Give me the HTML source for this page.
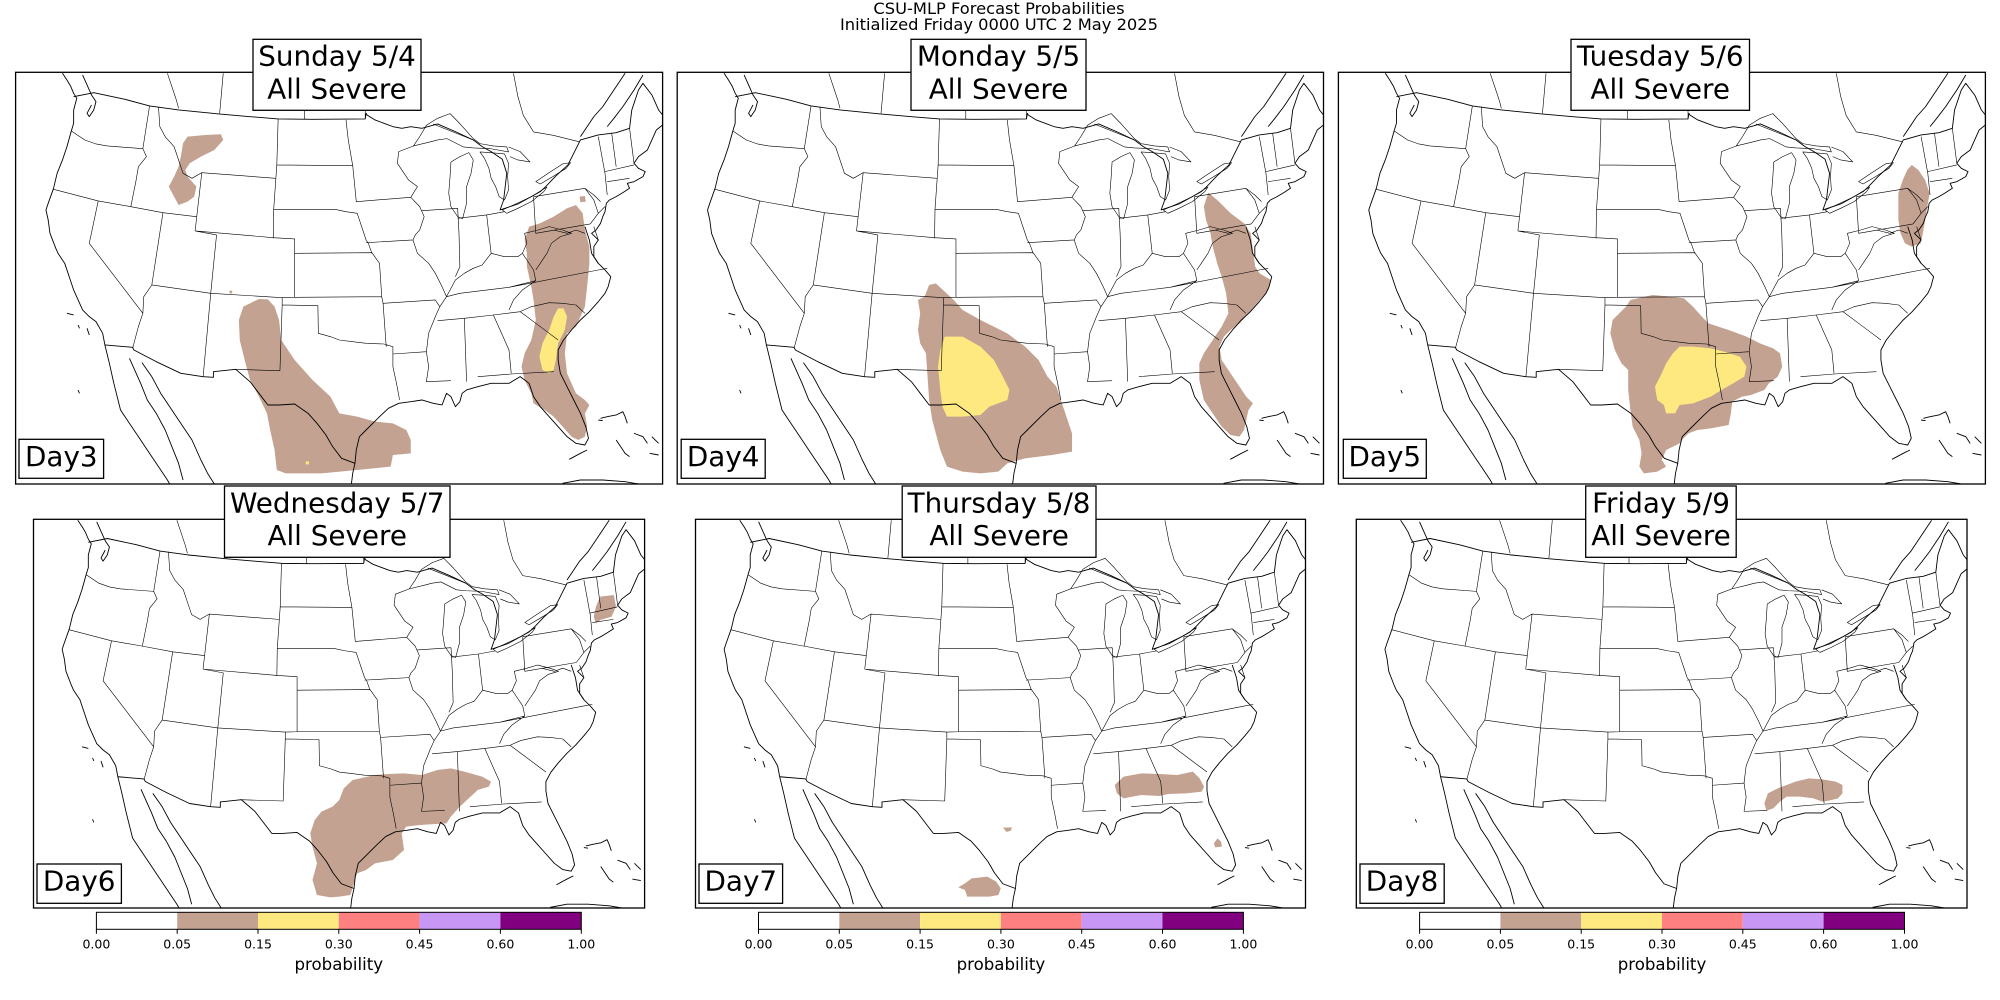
<!DOCTYPE html>
<html><head><meta charset="utf-8">
<style>
html,body{margin:0;padding:0;background:#fff;}
body{width:2000px;height:1000px;overflow:hidden;position:relative;}
svg text{font-family:"DejaVu Sans","Liberation Sans",sans-serif;fill:#000;}
.c{stroke-width:0.9;}
.s{stroke-width:0.6;}
.l{stroke-width:0.6;}
</style></head><body>
<svg width="2000" height="1000" viewBox="0 0 2000 1000" xmlns="http://www.w3.org/2000/svg" style="position:absolute;left:0;top:0">
<defs>
<g id="map" fill="none" stroke="#000" stroke-linejoin="round">
<path class="c" vector-effect="non-scaling-stroke" d="M140,220 L150,240 L158,258 L165,280 L172,295 L165,330 L165,370 L160,392 L150,440 L140,480 L128,520 L120,565 L108,610 L103,630 L108,660 L112,700 L125,745 L130,760 L145,790 L155,830 L165,870 L175,900 L185,930 L200,950 L215,965 L230,1000 L235,1035 L245,1090 L255,1150 L270,1230 L290,1270 L310,1310 L335,1360 L355,1400 L375,1440 L380,1452"/>
<path class="c" vector-effect="non-scaling-stroke" d="M185,225 L195,255 L205,285 L215,305 L210,330 L200,350 L195,340 L205,315"/>
<path class="c" vector-effect="non-scaling-stroke" d="M290,1075 L300,1105 L315,1150 L330,1200 L350,1240 L370,1290 L385,1340 L400,1390 L410,1440"/>
<path class="c" vector-effect="non-scaling-stroke" d="M318,1088 L340,1130 L360,1180 L385,1230 L405,1270 L430,1320 L450,1380 L465,1420 L480,1452"/>
<path class="c" vector-effect="non-scaling-stroke" d="M235,1035 L297,1042 L300,1050 L350,1085 L405,1120 L455,1130 L478,1132 L478,1115 L528,1108 L560,1145 L580,1180 L600,1215 L625,1215 L660,1212 L690,1240 L710,1270 L730,1305 L745,1340 L765,1375 L795,1390 L790,1420 L787,1452"/>
<path class="c" vector-effect="non-scaling-stroke" d="M795,1390 L798,1350 L805,1310 L820,1290 L850,1250 L870,1225 L893,1210 L920,1205 L945,1200 L970,1210 L990,1215 L1000,1180 L1010,1190 L1020,1220 L1030,1205 L1035,1180 L1045,1170 L1070,1160 L1100,1150 L1140,1150 L1165,1130 L1185,1150 L1195,1190 L1210,1220 L1230,1250 L1250,1280 L1270,1310 L1290,1330 L1310,1335 L1318,1315 L1312,1280 L1300,1240 L1285,1200 L1270,1160 L1255,1120 L1250,1080 L1250,1050 L1262,1020 L1280,990 L1300,960 L1320,935 L1340,905 L1355,880 L1362,860 L1368,830 L1355,810 L1340,790 L1330,770 L1330,740 L1340,720 L1325,700 L1335,690 L1345,670 L1350,650 L1355,635 L1358,610 L1365,600 L1380,590 L1395,578 L1410,565 L1405,550 L1420,545 L1440,530 L1445,515 L1430,505 L1420,490 L1430,470 L1450,450 L1460,420 L1470,390 L1484,375"/>
<path class="c" vector-effect="non-scaling-stroke" d="M1310,680 L1320,720 L1325,760 L1340,790"/>
<path class="c" vector-effect="non-scaling-stroke" d="M165,290 L210,278 L280,298 L335,318 L400,330 L490,342 L560,350 L623,357 L700,358 L818,357 L820,340 L822,345 L840,360 L860,370 L880,380 L900,385 L920,380 L945,385 L980,372 L1020,395 L1060,420 L1080,440 L1100,455 L1125,478 L1135,520 L1128,600 L1120,630 L1160,612 L1210,575 L1222,560 L1245,528 L1272,495 L1300,420 L1340,405 L1380,398 L1410,385 L1415,330 L1430,270 L1440,250 L1460,285 L1475,330 L1484,345"/>
<path class="c" vector-effect="non-scaling-stroke" d="M1400,220 L1380,260 L1350,320 L1330,350 L1310,390 L1300,410"/>
<path class="c" vector-effect="non-scaling-stroke" d="M1440,225 L1420,270 L1395,320 L1375,355 L1360,380"/>
<path class="c" vector-effect="non-scaling-stroke" d="M1260,1450 L1300,1440 L1350,1440 L1400,1445 L1430,1452"/>
<path class="c" vector-effect="non-scaling-stroke" d="M1345,1255 L1360,1250 L1380,1245 L1395,1235 L1400,1250 L1405,1270 M1380,1320 L1390,1340 L1400,1360 L1410,1370 M1420,1300 L1440,1310 L1450,1330 M1460,1310 L1475,1330 M1455,1360 L1475,1365 M1275,1378 L1300,1360 L1315,1350 M150,940 L165,945 M175,975 L178,985 M195,985 L200,1005 M175,1170 L178,1180 M1340,1260 L1350,1262"/>
<path class="s" vector-effect="non-scaling-stroke" d="M375,220 L385,260 L395,300 L400,325 M500,220 L492,340 M682,331 L682,358 M818,331 L818,357 M1150,220 L1160,290 L1172,346 L1195,396 L1239,406 L1299,426 M970,372 L1060,420"/>
<path class="l" vector-effect="non-scaling-stroke" d="M926,438 L940,410 L955,376 L980,355 L1008,341 L1030,371 L1060,416 L1075,431 L1105,438 L1135,441 L1139,456 L1098,446 L1060,444 L1038,441 L1001,416 L980,420 L963,426 Z"/>
<path class="l" vector-effect="non-scaling-stroke" d="M1010,486 L1030,470 L1050,458 L1060,480 L1055,520 L1045,560 L1045,610 L1036,656 L1025,650 L1010,620 L1005,580 L1008,530 Z"/>
<path class="l" vector-effect="non-scaling-stroke" d="M1075,456 L1100,458 L1130,462 L1139,490 L1137,530 L1139,570 L1130,600 L1118,590 L1110,560 L1100,535 L1095,505 L1085,475 Z M1139,441 L1165,455 L1187,486 L1160,480 L1142,470"/>
<path class="l" vector-effect="non-scaling-stroke" d="M1125,630 L1150,615 L1190,590 L1225,561 L1218,575 L1190,605 L1160,625 L1135,640 Z"/>
<path class="l" vector-effect="non-scaling-stroke" d="M1200,545 L1230,518 L1260,492 L1278,488 L1268,505 L1238,530 L1210,552 Z"/>
<path class="s" vector-effect="non-scaling-stroke" d="M160,393 L190,420 L215,432 L240,438 L320,446 M335,318 L320,446 L328,470 L310,500 L305,540 L293,620 M120,568 L220,603 L293,620 L365,638 L440,650 M355,320 L358,380 L370,410 L390,440 L400,480 L410,520 L430,535 L452,518 L617,535 M437,693 L452,518 M437,693 L485,705 M623,357 L620,495 L613,628 L612,715 M620,495 L790,497 M775,360 L780,420 L790,497 L798,605 L920,592 M920,592 L935,560 L915,540 L890,490 L893,455 L926,438 M613,628 L750,628 L775,635 L800,640 L810,680 L820,720 L825,730 L833,760 M820,728 L925,720 M920,592 L940,620 L950,650 L940,690 L930,705 L925,720 L935,760 L960,790 L975,820 L990,860 L1000,890 M945,632 L1025,625 M437,693 L612,713 L660,717 L660,760 L833,758 L850,790 L855,890 M340,855 L472,880 L632,893 L660,892 L855,890 M485,705 L472,880 M660,717 L660,892 M632,893 L632,915 L712,917 L713,1000 L740,1010 L760,1020 L790,1025 L820,1030 L860,1032 L880,1040 M855,890 L858,910 L865,1040 M858,910 L975,900 L985,920 L1000,890 M632,915 L627,1112 L525,1108 M472,880 L455,1130 M365,638 L340,855 M340,855 L322,890 L320,940 L310,980 L297,1045 M220,603 L200,730 L320,940 M880,1040 L880,1100 L888,1150 L895,1200 M880,1062 L955,1055 M985,920 L975,950 L960,1000 L955,1055 L960,1100 L955,1145 L1010,1142 M980,962 L1040,955 L1105,945 L1165,935 M1000,890 L1030,880 L1140,862 L1340,810 L1360,805 M1200,842 L1170,870 L1150,900 L1140,930 M1040,955 L1045,1145 M1105,945 L1140,1050 L1145,1120 M1070,1130 L1145,1122 L1240,1115 M1165,935 L1200,970 L1230,1000 L1250,1020 M1165,935 L1190,920 L1230,908 L1260,910 L1290,915 L1310,940 M1000,890 L1020,840 L1040,820 L1060,805 L1080,795 L1100,760 L1130,770 L1160,770 L1170,760 L1180,780 M1025,625 L1028,700 L1030,800 L1020,830 M1090,645 L1100,760 M1025,655 L1090,645 L1130,635 M1180,780 L1195,810 L1200,842 L1140,862 M1170,760 L1180,730 L1175,700 L1205,690 L1230,680 L1260,690 L1280,700 L1255,710 L1235,730 L1225,760 L1210,790 L1200,810 M1195,590 L1200,700 L1322,672 M1195,590 L1310,565 L1330,585 L1345,605 M1310,565 L1330,600 L1340,640 L1322,672 M1340,640 L1355,620 M1340,410 L1355,520 L1360,585 M1355,515 L1420,495 M1360,545 L1410,535 M1370,400 L1380,500 M1410,385 L1420,490 M1240,690 L1270,700 L1290,690 L1310,700 M1330,680 L1340,720"/>
</g>
</defs>

<text x="999" y="14" font-size="16.3" text-anchor="middle">CSU-MLP Forecast Probabilities</text>
<text x="999" y="30" font-size="16.3" text-anchor="middle">Initialized Friday 0000 UTC 2 May 2025</text>

<!-- Panel 1 -->
<svg x="15.6" y="72.3" width="647" height="411.7" viewBox="35 217 1449 1235" preserveAspectRatio="none">
<g stroke="none">
<path fill="#c4a292" d="M420,410 L460,405 L495,403 L500,420 L480,450 L450,470 L425,490 L415,510 L420,530 L440,560 L435,590 L420,605 L400,615 L390,590 L378,560 L390,530 L400,500 L405,470 L410,430 Z"/>
<path fill="#c4a292" d="M580,897 L600,898 L615,920 L625,960 L630,1020 L660,1080 L700,1140 L740,1190 L760,1240 L800,1250 L840,1265 L880,1270 L910,1290 L920,1320 L920,1360 L880,1365 L875,1400 L800,1410 L720,1420 L640,1420 L620,1410 L615,1350 L605,1290 L598,1240 L580,1190 L560,1140 L548,1080 L537,1020 L535,960 L545,920 Z"/>
<path fill="#c4a292" d="M1185,680 L1210,670 L1240,650 L1270,625 L1290,615 L1305,640 L1310,690 L1320,740 L1320,790 L1315,860 L1310,920 L1300,950 L1290,980 L1270,1000 L1265,1060 L1270,1120 L1290,1180 L1310,1200 L1320,1215 L1310,1240 L1315,1280 L1310,1310 L1295,1320 L1280,1310 L1260,1280 L1240,1250 L1220,1230 L1195,1210 L1190,1180 L1175,1140 L1168,1100 L1175,1060 L1190,1020 L1200,960 L1195,900 L1190,860 L1180,800 L1180,760 L1175,720 Z"/>
<path fill="#c4a292" d="M1298,590 L1310,588 L1312,605 L1300,607 Z M514,872 L520,872 L520,880 L514,880 Z"/>
<path fill="#fee981" d="M1250,925 L1262,925 L1270,950 L1265,990 L1250,1030 L1245,1080 L1240,1110 L1230,1120 L1215,1110 L1208,1070 L1215,1030 L1230,990 L1240,950 Z M685,1384 L692,1384 L692,1393 L685,1393 Z"/>
</g>
</svg>
<svg x="15.6" y="72.3" width="647" height="411.7" viewBox="35 217 1449 1235" preserveAspectRatio="none"><use href="#map"/></svg>
<rect x="15.6" y="72.3" width="647" height="411.7" fill="none" stroke="#000" stroke-width="1.3"/>

<!-- Panel 2 -->
<svg x="677.2" y="72.3" width="646.3" height="411.7" viewBox="61 217 1447 1235" preserveAspectRatio="none">
<g stroke="none">
<path fill="#c4a292" d="M625,855 L640,850 L660,875 L680,900 L700,930 L740,960 L800,1000 L840,1040 L870,1080 L890,1130 L910,1160 L920,1200 L935,1260 L945,1300 L945,1355 L900,1365 L840,1375 L800,1390 L780,1415 L740,1420 L700,1415 L665,1400 L650,1350 L640,1300 L632,1260 L625,1200 L622,1140 L618,1060 L605,1030 L600,990 L605,940 L600,900 L615,890 Z"/>
<path fill="#fee981" d="M660,1010 L700,1010 L740,1040 L770,1080 L790,1130 L805,1170 L800,1200 L760,1220 L740,1245 L700,1250 L665,1250 L655,1220 L650,1170 L645,1100 L650,1050 Z"/>
<path fill="#c4a292" d="M1250,578 L1270,600 L1300,640 L1330,670 L1345,700 L1350,750 L1355,800 L1365,820 L1390,840 L1385,870 L1365,900 L1340,940 L1320,970 L1300,990 L1285,1010 L1275,1040 L1280,1080 L1300,1120 L1320,1160 L1335,1190 L1350,1210 L1340,1230 L1335,1260 L1330,1290 L1320,1310 L1300,1305 L1280,1280 L1260,1240 L1240,1200 L1230,1140 L1230,1090 L1240,1060 L1260,1020 L1280,980 L1295,940 L1290,880 L1280,830 L1270,790 L1260,740 L1255,700 L1245,660 L1240,620 Z"/>
</g>
</svg>
<svg x="677.2" y="72.3" width="646.3" height="411.7" viewBox="35 217 1449 1235" preserveAspectRatio="none"><use href="#map"/></svg>
<rect x="677.2" y="72.3" width="646.3" height="411.7" fill="none" stroke="#000" stroke-width="1.3"/>

<!-- Panel 3 -->
<svg x="1338.4" y="72.3" width="647" height="411.7" viewBox="86 217 1449 1235" preserveAspectRatio="none">
<g stroke="none">
<path fill="#c4a292" d="M1370,495 L1385,510 L1400,540 L1410,580 L1405,620 L1400,660 L1395,700 L1390,730 L1370,740 L1355,730 L1345,700 L1340,660 L1340,620 L1340,580 L1350,540 L1360,510 Z"/>
<path fill="#c4a292" d="M740,900 L790,885 L830,890 L860,895 L880,920 L900,950 L915,970 L960,990 L1000,1010 L1030,1030 L1060,1045 L1075,1060 L1080,1100 L1070,1130 L1050,1150 L1040,1170 L1010,1185 L990,1190 L968,1205 L965,1240 L960,1275 L920,1285 L890,1290 L870,1300 L855,1320 L850,1330 L820,1350 L810,1380 L820,1400 L800,1415 L770,1420 L760,1400 L765,1360 L760,1320 L745,1280 L740,1230 L735,1170 L735,1110 L720,1090 L705,1050 L695,1000 L700,960 L715,940 L730,920 Z"/>
<path fill="#fee981" d="M850,1040 L880,1040 L920,1045 L950,1055 L985,1070 L1000,1100 L995,1130 L970,1150 L950,1165 L920,1190 L880,1210 L850,1215 L840,1240 L820,1240 L815,1215 L800,1200 L795,1160 L810,1120 L820,1090 L835,1060 Z"/>
</g>
</svg>
<svg x="1338.4" y="72.3" width="647" height="411.7" viewBox="35 217 1449 1235" preserveAspectRatio="none"><use href="#map"/></svg>
<rect x="1338.4" y="72.3" width="647" height="411.7" fill="none" stroke="#000" stroke-width="1.3"/>

<!-- Panel 4 -->
<svg x="33.5" y="519.3" width="611.1" height="388.7" viewBox="75 118 1369 1166" preserveAspectRatio="none">
<g stroke="none">
<path fill="#c4a292" d="M1345,350 L1375,345 L1380,380 L1370,410 L1345,420 L1335,430 L1330,410 L1335,380 Z"/>
<path fill="#c4a292" d="M790,900 L840,885 L870,882 L905,880 L945,885 L980,870 L1010,865 L1040,875 L1080,890 L1100,905 L1095,920 L1070,930 L1050,955 L1030,980 L1010,1010 L1000,1030 L940,1035 L910,1040 L900,1060 L905,1110 L880,1140 L840,1150 L820,1170 L800,1180 L795,1200 L785,1245 L760,1250 L740,1252 L710,1245 L700,1200 L710,1150 L700,1100 L695,1060 L705,1020 L720,995 L745,980 L760,960 L770,925 Z"/>
</g>
</svg>
<svg x="33.5" y="519.3" width="611.1" height="388.7" viewBox="35 217 1449 1235" preserveAspectRatio="none"><use href="#map"/></svg>
<rect x="33.5" y="519.3" width="611.1" height="388.7" fill="none" stroke="#000" stroke-width="1.3"/>

<!-- Panel 5 -->
<svg x="695.5" y="519.3" width="610" height="388.7" viewBox="102 118 1365 1166" preserveAspectRatio="none">
<g stroke="none" fill="#c4a292">
<path d="M1060,890 L1100,880 L1140,882 L1180,885 L1215,875 L1230,895 L1240,920 L1235,935 L1200,940 L1160,942 L1140,948 L1100,945 L1080,950 L1060,955 L1045,940 L1040,915 Z"/>
<path d="M790,1043 L810,1042 L808,1052 L798,1056 Z"/>
<path d="M1270,1075 L1278,1085 L1280,1100 L1265,1102 L1262,1090 Z"/>
<path d="M720,1195 L755,1190 L775,1205 L785,1225 L780,1245 L760,1250 L710,1250 L705,1230 L690,1222 L705,1210 Z"/>
</g>
</svg>
<svg x="695.5" y="519.3" width="610" height="388.7" viewBox="35 217 1449 1235" preserveAspectRatio="none"><use href="#map"/></svg>
<rect x="695.5" y="519.3" width="610" height="388.7" fill="none" stroke="#000" stroke-width="1.3"/>

<!-- Panel 6 -->
<svg x="1356.3" y="519.3" width="610.7" height="388.7" viewBox="126 118 1368 1166" preserveAspectRatio="none">
<g stroke="none" fill="#c4a292">
<path d="M1110,905 L1140,895 L1170,898 L1200,905 L1215,915 L1215,940 L1205,955 L1185,962 L1170,965 L1150,955 L1120,950 L1090,950 L1075,965 L1060,985 L1045,992 L1040,970 L1048,940 L1070,925 L1090,915 Z"/>
</g>
</svg>
<svg x="1356.3" y="519.3" width="610.7" height="388.7" viewBox="35 217 1449 1235" preserveAspectRatio="none"><use href="#map"/></svg>
<rect x="1356.3" y="519.3" width="610.7" height="388.7" fill="none" stroke="#000" stroke-width="1.3"/>

<g font-size="27.8" text-anchor="middle">
<rect x="253" y="39.3" width="168" height="71" fill="#fff" stroke="#000" stroke-width="1.3"/>
<text x="337" y="65.7">Sunday 5/4</text><text x="337" y="98.3">All Severe</text>
<rect x="911" y="39.3" width="175" height="71" fill="#fff" stroke="#000" stroke-width="1.3"/>
<text x="998.5" y="65.7">Monday 5/5</text><text x="998.5" y="98.3">All Severe</text>
<rect x="1571" y="39.3" width="178.5" height="71" fill="#fff" stroke="#000" stroke-width="1.3"/>
<text x="1660.2" y="65.7">Tuesday 5/6</text><text x="1660.2" y="98.3">All Severe</text>
<rect x="224.5" y="486" width="225.5" height="71.3" fill="#fff" stroke="#000" stroke-width="1.3"/>
<text x="337.2" y="512.4">Wednesday 5/7</text><text x="337.2" y="545">All Severe</text>
<rect x="902.2" y="486" width="193.8" height="71.3" fill="#fff" stroke="#000" stroke-width="1.3"/>
<text x="999.1" y="512.4">Thursday 5/8</text><text x="999.1" y="545">All Severe</text>
<rect x="1585.7" y="486" width="150.5" height="71.3" fill="#fff" stroke="#000" stroke-width="1.3"/>
<text x="1661" y="512.4">Friday 5/9</text><text x="1661" y="545">All Severe</text>

<rect x="19" y="439.3" width="84.6" height="39" fill="#fff" stroke="#000" stroke-width="1.3"/>
<text x="61.3" y="466">Day3</text>
<rect x="681.2" y="439.3" width="84" height="39" fill="#fff" stroke="#000" stroke-width="1.3"/>
<text x="723.2" y="466">Day4</text>
<rect x="1343.3" y="439.3" width="83" height="39" fill="#fff" stroke="#000" stroke-width="1.3"/>
<text x="1384.8" y="466">Day5</text>
<rect x="37" y="864" width="84.4" height="39.3" fill="#fff" stroke="#000" stroke-width="1.3"/>
<text x="79.2" y="890.7">Day6</text>
<rect x="699" y="864" width="83.6" height="39.3" fill="#fff" stroke="#000" stroke-width="1.3"/>
<text x="740.8" y="890.7">Day7</text>
<rect x="1360" y="864" width="84.2" height="39.3" fill="#fff" stroke="#000" stroke-width="1.3"/>
<text x="1402.1" y="890.7">Day8</text>
</g>

<g id="cb1" transform="translate(96.4,912.3)">
<rect x="0" y="0" width="80.8" height="17" fill="#ffffff"/>
<rect x="80.8" y="0" width="80.8" height="17" fill="#c4a292"/>
<rect x="161.6" y="0" width="80.8" height="17" fill="#fee981"/>
<rect x="242.4" y="0" width="80.8" height="17" fill="#ff8080"/>
<rect x="323.2" y="0" width="80.8" height="17" fill="#c896f5"/>
<rect x="404" y="0" width="80.9" height="17" fill="#800080"/>
<rect x="0" y="0" width="484.9" height="17" fill="none" stroke="#000" stroke-width="1"/>
<path d="M0,17 V21.5 M80.8,17 V21.5 M161.6,17 V21.5 M242.4,17 V21.5 M323.2,17 V21.5 M404,17 V21.5 M484.9,17 V21.5" stroke="#000" stroke-width="1"/>
<g font-size="12.5" text-anchor="middle">
<text x="0" y="36">0.00</text><text x="80.8" y="36">0.05</text><text x="161.6" y="36">0.15</text><text x="242.4" y="36">0.30</text><text x="323.2" y="36">0.45</text><text x="404" y="36">0.60</text><text x="484.9" y="36">1.00</text>
</g>
<text x="242.4" y="57.7" font-size="16.6" text-anchor="middle">probability</text>
</g>
<use href="#cb1" transform="translate(662.1,0)"/>
<use href="#cb1" transform="translate(1323.2,0)"/>
</svg>
</body></html>
